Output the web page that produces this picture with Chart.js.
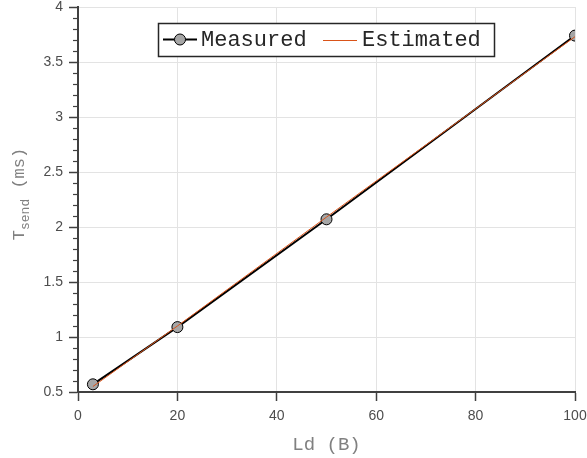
<!DOCTYPE html>
<html>
<head>
<meta charset="utf-8">
<script src="https://cdn.jsdelivr.net/npm/chart.js@4.4.1/dist/chart.umd.min.js"></script>
<style>
  html, body { margin: 0; padding: 0; background: #fff; }
  #wrap { width: 587px; height: 458px; }
</style>
</head>
<body>
<div id="wrap"><canvas id="chart" width="587" height="458"></canvas></div>
<script>
// data
const ldBytes = [3, 20, 50, 100];
const measured = [0.57, 1.09, 2.07, 3.74];
const estimated = [0.55, 1.10, 2.09, 3.73];
const xTicks = [0, 20, 40, 60, 80, 100];
const yTicks = [0.5, 1, 1.5, 2, 2.5, 3, 3.5, 4];

const axisColor = "#404040";
const orange = "#d95319";
const monoFont = "'Liberation Mono', 'DejaVu Sans Mono', monospace";
const sansFont = "'Liberation Sans', Arial, sans-serif";

// minor ticks on y, titles and the boxed legend
const decorPlugin = {
  id: "decor",
  afterDraw(chart) {
    const ctx = chart.ctx;
    const ys = chart.scales.y;
    const area = chart.chartArea;
    ctx.save();

    // y minor ticks every 0.1
    ctx.strokeStyle = axisColor;
    ctx.lineWidth = 1.2;
    for (let i = 1; i < 35; i++) {
      if (i % 5 === 0) continue;
      const py = Math.round(ys.getPixelForValue(0.5 + i * 0.1)) + 0.5;
      ctx.beginPath();
      ctx.moveTo(area.left - 5, py);
      ctx.lineTo(area.left, py);
      ctx.stroke();
    }

    // x title
    ctx.fillStyle = "#808080";
    ctx.font = "19px " + monoFont;
    ctx.textAlign = "center";
    ctx.textBaseline = "middle";
    ctx.fillText("Ld (B)", (area.left + area.right) / 2, 445);

    // y title with subscript
    ctx.translate(18, 194);
    ctx.rotate(-Math.PI / 2);
    ctx.textAlign = "left";
    ctx.textBaseline = "alphabetic";
    ctx.font = "17px " + monoFont;
    const wT = ctx.measureText("T").width;
    ctx.font = "13px " + monoFont;
    const wSub = ctx.measureText("send").width;
    ctx.font = "17px " + monoFont;
    const wRest = ctx.measureText(" (ms)").width;
    let x0 = -(wT + wSub + wRest) / 2;
    ctx.fillText("T", x0, 6);
    ctx.font = "13px " + monoFont;
    ctx.fillText("send", x0 + wT, 11);
    ctx.font = "17px " + monoFont;
    ctx.fillText(" (ms)", x0 + wT + wSub, 6);
    ctx.setTransform(1, 0, 0, 1, 0, 0);

    // legend box
    const bx = 158, by = 23, bw = 336, bh = 33;
    ctx.fillStyle = "#fff";
    ctx.fillRect(bx, by, bw, bh);
    ctx.strokeStyle = "#262626";
    ctx.lineWidth = 1.5;
    ctx.strokeRect(bx + 0.5, by + 0.5, bw, bh);
    const ly = by + bh / 2;

    ctx.strokeStyle = "#000";
    ctx.lineWidth = 2;
    ctx.beginPath();
    ctx.moveTo(163, ly);
    ctx.lineTo(197, ly);
    ctx.stroke();
    ctx.beginPath();
    ctx.arc(180, ly, 5.5, 0, Math.PI * 2);
    ctx.fillStyle = "#a6a6a6";
    ctx.fill();
    ctx.lineWidth = 1;
    ctx.stroke();

    ctx.strokeStyle = orange;
    ctx.lineWidth = 1.2;
    ctx.beginPath();
    ctx.moveTo(323, Math.round(ly) + 0.5);
    ctx.lineTo(357, Math.round(ly) + 0.5);
    ctx.stroke();

    ctx.fillStyle = "#262626";
    ctx.font = "22px " + monoFont;
    ctx.textBaseline = "middle";
    ctx.fillText("Measured", 201, ly + 1);
    ctx.fillText("Estimated", 362, ly + 1);
    ctx.restore();
  }
};

// drop the label overflow padding so the plot box sits where the layout says
function noOverflow(s) {
  s.paddingTop = 0;
  s.paddingBottom = 0;
  s.paddingLeft = 0;
  s.paddingRight = 0;
}

new Chart(document.getElementById("chart"), {
  type: "line",
  data: {
    datasets: [
      {
        label: "Estimated",
        data: ldBytes.map((x, i) => ({ x, y: estimated[i] })),
        borderColor: orange,
        borderWidth: 1,
        pointRadius: 0,
        fill: false,
        order: 0
      },
      {
        label: "Measured",
        data: ldBytes.map((x, i) => ({ x, y: measured[i] })),
        borderColor: "#000",
        borderWidth: 2,
        pointRadius: 5.5,
        pointBackgroundColor: "#a6a6a6",
        pointBorderColor: "#000",
        pointBorderWidth: 1,
        fill: false,
        order: 1
      }
    ]
  },
  options: {
    responsive: false,
    animation: false,
    layout: { padding: { top: 7, right: 12, left: 0, bottom: 0 } },
    plugins: {
      legend: { display: false },
      tooltip: { enabled: false }
    },
    scales: {
      x: {
        type: "linear",
        min: 0,
        max: 100,
        afterBuildTicks: s => { s.ticks = xTicks.map(v => ({ value: v })); },
        afterFit: s => { s.height = 66; noOverflow(s); },
        grid: {
          color: "#e3e3e3",
          lineWidth: 1,
          tickColor: axisColor,
          tickLength: 9,
          tickWidth: 1.5
        },
        border: { color: axisColor, width: 2 },
        ticks: {
          color: "#4d4d4d",
          font: { family: sansFont, size: 14 },
          padding: 7,
          maxRotation: 0,
          callback: v => String(v)
        }
      },
      y: {
        type: "linear",
        min: 0.5,
        max: 4,
        afterBuildTicks: s => { s.ticks = yTicks.map(v => ({ value: v })); },
        afterFit: s => { s.width = 78; noOverflow(s); },
        grid: {
          color: "#e3e3e3",
          lineWidth: 1,
          tickColor: axisColor,
          tickLength: 9,
          tickWidth: 1.5
        },
        border: { color: axisColor, width: 2 },
        ticks: {
          color: "#4d4d4d",
          font: { family: sansFont, size: 14 },
          padding: 6,
          callback: v => String(v)
        }
      }
    }
  },
  plugins: [decorPlugin]
});
</script>
</body>
</html>
